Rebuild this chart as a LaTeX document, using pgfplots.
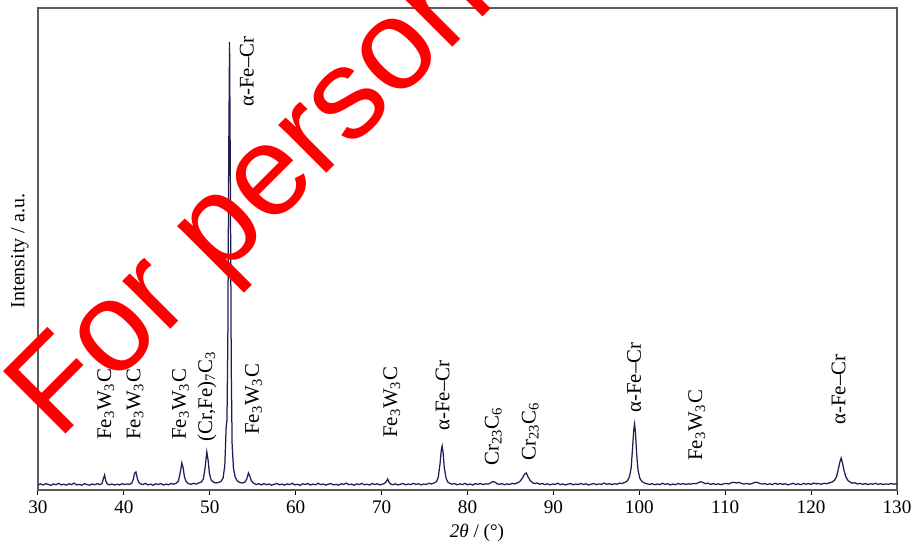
\documentclass[border=0pt]{standalone}
\usepackage{pgfplots}
\pgfplotsset{compat=1.18}
\usepackage{fontspec}
\setmainfont{Liberation Serif}
\newfontfamily\wmfont{Liberation Sans}
\definecolor{trace}{RGB}{30,30,85}
\definecolor{frame}{RGB}{90,90,90}
\begin{document}
\begin{tikzpicture}
\begin{axis}[
  at={(0,0)}, anchor=south west,
  scale only axis, width=515.4pt, height=289.2pt,
  xmin=30, xmax=130, ymin=0, ymax=482,
  xtick={30,40,...,130}, ytick=\empty,
  xtick pos=bottom, tick align=outside,
  major tick length=3pt,
  axis line style={frame, line width=0.8pt},
  every tick/.style={black, line width=0.6pt},
  /pgf/number format/assume math mode=true,
  xticklabel style={font=\fontsize{11.5}{12}\selectfont},
  xlabel={\textit{2θ} / (°)},
  xlabel style={font=\fontsize{11.5}{12}\selectfont, at={(axis description cs:0.511,-0.089)}, anchor=center},
  ylabel={Intensity / a.u.},
  ylabel style={font=\fontsize{12}{12}\selectfont, at={(axis description cs:-0.021,0.496)}, anchor=center},
  clip=false,
]
\addplot[trace, line width=0.75pt] coordinates {
(30.0,5.2)(30.3,6.1)(30.6,5.0)(30.9,6.4)(31.2,5.5)(31.5,4.6)(31.8,6.0)(32.1,5.3)(32.4,6.7)(32.7,5.1)
(33.0,5.8)(33.3,4.9)(33.6,6.2)(33.9,5.4)(34.2,6.9)(34.5,5.0)(34.8,5.7)(35.1,4.7)(35.4,6.3)(35.7,5.5)
(36.0,4.8)(36.3,6.0)(36.6,5.2)(36.9,6.4)(37.2,5.3)(37.45,6.5)(37.6,11)(37.75,15)(37.9,9)(38.05,6.2)
(38.3,5.1)(38.6,6.0)(38.9,4.9)(39.2,5.8)(39.5,5.0)(39.8,6.3)(40.1,5.4)(40.4,6.1)(40.7,5.6)(40.95,7.2)
(41.1,11)(41.25,17)(41.4,18)(41.55,12)(41.7,8.0)(41.9,6.3)(42.2,5.4)(42.5,6.6)(42.8,5.1)(43.1,5.9)
(43.4,4.8)(43.7,6.2)(44.0,5.5)(44.3,6.4)(44.6,5.0)(44.9,5.9)(45.2,5.3)(45.5,6.5)(45.8,5.8)(46.1,6.9)
(46.35,9)(46.55,17)(46.75,27)(46.9,22)(47.05,13)(47.25,8.5)(47.5,6.5)(47.8,5.6)(48.1,6.7)(48.4,5.9)
(48.7,7.0)(49.0,7.8)(49.25,11)(49.45,22)(49.65,38)(49.8,30)(49.95,17)(50.15,10)(50.4,8.0)(50.7,7.0)
(51.0,7.5)(51.3,8.5)(51.55,12)(51.75,25)(51.9,62)(52.0,70)(52.1,150)(52.2,330)(52.3,448)(52.4,300)
(52.5,120)(52.6,45)(52.75,22)(52.95,13)(53.2,9)(53.5,7.5)(53.8,7.0)(54.1,8.0)(54.3,11)(54.5,17)
(54.65,14)(54.85,9)(55.1,6.8)(55.4,5.5)(55.7,6.3)(56.0,5.1)(56.3,6.4)(56.6,5.3)(56.9,6.0)(57.2,4.8)
(57.5,5.7)(57.8,6.6)(58.1,5.2)(58.4,5.9)(58.7,4.9)(59.0,6.1)(59.3,5.4)(59.6,6.8)(59.9,5.1)(60.2,5.8)
(60.5,4.6)(60.8,6.2)(61.1,5.5)(61.4,6.5)(61.7,5.0)(62.0,5.9)(62.3,5.2)(62.6,6.7)(62.9,5.4)(63.2,6.0)
(63.5,4.9)(63.8,5.8)(64.1,6.4)(64.4,5.1)(64.7,5.7)(65.0,4.8)(65.3,6.3)(65.6,5.6)(65.9,6.9)(66.2,5.3)
(66.5,5.9)(66.8,4.7)(67.1,6.1)(67.4,5.4)(67.7,6.6)(68.0,5.2)(68.3,5.8)(68.6,5.0)(68.9,6.4)(69.2,5.5)
(69.5,6.2)(69.8,5.1)(70.1,5.9)(70.35,6.5)(70.55,8.5)(70.7,11)(70.85,8)(71.05,6.0)(71.3,5.3)(71.6,6.2)
(71.9,5.0)(72.2,5.8)(72.5,6.5)(72.8,5.2)(73.1,6.0)(73.4,5.4)(73.7,6.7)(74.0,5.6)(74.3,6.3)(74.6,5.1)
(74.9,6.0)(75.2,5.5)(75.5,6.8)(75.8,6.0)(76.1,7.0)(76.4,8.5)(76.6,13)(76.8,26)(76.95,40)(77.05,44)
(77.15,38)(77.3,22)(77.5,12)(77.7,8.0)(77.95,6.6)(78.2,5.8)(78.5,6.4)(78.8,5.2)(79.1,6.1)(79.4,5.5)
(79.7,6.6)(80.0,5.3)(80.3,6.0)(80.6,5.0)(80.9,6.3)(81.2,5.7)(81.5,6.5)(81.8,5.4)(82.1,6.2)(82.4,5.9)
(82.7,7.2)(82.95,8.5)(83.2,7.8)(83.45,6.3)(83.7,5.6)(84.0,6.4)(84.3,5.3)(84.6,6.1)(84.9,5.5)(85.2,6.7)
(85.5,6.0)(85.8,7.2)(86.1,8.5)(86.4,12)(86.65,16)(86.85,17)(87.05,13)(87.3,9.5)(87.55,7.5)(87.8,6.4)
(88.1,7.0)(88.4,5.8)(88.7,6.5)(89.0,5.4)(89.3,6.2)(89.6,5.1)(89.9,6.0)(90.2,5.6)(90.5,6.8)(90.8,5.3)
(91.1,6.1)(91.4,5.0)(91.7,5.9)(92.0,6.5)(92.3,5.2)(92.6,6.0)(92.9,5.4)(93.2,6.6)(93.5,5.5)(93.8,6.2)
(94.1,5.0)(94.4,5.8)(94.7,6.4)(95.0,5.3)(95.3,6.1)(95.6,5.6)(95.9,6.9)(96.2,5.7)(96.5,6.3)(96.8,5.4)
(97.1,6.2)(97.4,5.8)(97.7,6.9)(98.0,6.5)(98.3,7.5)(98.6,9.0)(98.85,13)(99.05,22)(99.2,40)(99.35,60)
(99.45,66)(99.55,58)(99.7,35)(99.85,20)(100.05,12)(100.3,8.5)(100.6,7.0)(100.9,6.2)(101.2,5.5)(101.5,6.4)
(101.8,5.2)(102.1,6.0)(102.4,5.4)(102.7,6.7)(103.0,5.6)(103.3,6.3)(103.6,5.1)(103.9,5.9)(104.2,5.3)(104.5,6.5)
(104.8,5.7)(105.1,6.4)(105.4,5.5)(105.7,6.2)(106.0,5.8)(106.3,6.6)(106.6,6.3)(106.9,7.4)(107.15,8.3)(107.4,7.5)
(107.7,6.3)(108.0,6.9)(108.3,5.6)(108.6,6.4)(108.9,5.5)(109.2,6.2)(109.5,5.3)(109.8,6.1)(110.1,6.6)(110.4,6.0)
(110.7,7.2)(111.0,7.8)(111.3,7.0)(111.6,7.6)(111.9,6.5)(112.2,5.9)(112.5,6.6)(112.8,5.8)(113.1,6.4)(113.4,7.4)
(113.7,7.8)(114.0,6.6)(114.3,5.9)(114.6,6.4)(114.9,5.5)(115.2,6.2)(115.5,5.4)(115.8,6.8)(116.1,5.7)(116.4,6.5)
(116.7,5.6)(117.0,6.3)(117.3,5.1)(117.6,5.9)(117.9,6.7)(118.2,5.5)(118.5,6.2)(118.8,5.3)(119.1,6.6)(119.4,5.8)
(119.7,6.4)(120.0,5.6)(120.3,6.9)(120.6,6.1)(120.9,6.5)(121.2,5.7)(121.5,6.8)(121.8,6.2)(122.1,7.1)(122.4,7.8)
(122.7,9.5)(122.95,13)(123.15,20)(123.35,28)(123.5,32)(123.65,27)(123.85,19)(124.05,13)(124.3,9.5)(124.55,7.8)
(124.8,6.8)(125.1,7.2)(125.4,6.0)(125.7,6.6)(126.0,5.7)(126.3,6.4)(126.6,5.5)(126.9,6.2)(127.2,5.8)(127.5,6.7)
(127.8,5.6)(128.1,6.3)(128.4,5.4)(128.7,6.1)(129.0,5.7)(129.3,6.5)(129.6,5.8)(129.9,6.2)(130.0,5.9)
};
\begin{scope}[every node/.style={rotate=90, anchor=west, inner sep=0pt, font=\fontsize{12.5}{12.5}\selectfont}]
\node at (axis cs:37.9,50) {Fe\textsubscript{3}W\textsubscript{3}C};
\node at (axis cs:41.3,50) {Fe\textsubscript{3}W\textsubscript{3}C};
\node at (axis cs:46.6,50) {Fe\textsubscript{3}W\textsubscript{3}C};
\node at (axis cs:49.7,48) {(Cr,Fe)\textsubscript{7}C\textsubscript{3}};
\node at (axis cs:55.1,55) {Fe\textsubscript{3}W\textsubscript{3}C};
\node at (axis cs:54.3,383) {α-Fe--Cr};
\node at (axis cs:71.2,52) {Fe\textsubscript{3}W\textsubscript{3}C};
\node at (axis cs:77.1,59) {α-Fe--Cr};
\node at (axis cs:83.0,24) {Cr\textsubscript{23}C\textsubscript{6}};
\node at (axis cs:87.3,29) {Cr\textsubscript{23}C\textsubscript{6}};
\node at (axis cs:99.4,77) {α-Fe--Cr};
\node at (axis cs:106.7,29) {Fe\textsubscript{3}W\textsubscript{3}C};
\node at (axis cs:123.2,65) {α-Fe--Cr};
\end{scope}
\end{axis}
\begin{scope}
\clip (-22.8pt,-34.2pt) rectangle (525.6pt,294pt);
\node[anchor=base west, rotate=45, inner sep=0pt, text={rgb,255:red,255;green,0;blue,0}, font=\wmfont\fontsize{77}{77}\selectfont] at (12pt,29pt) {For personal};
\end{scope}
\pgfresetboundingbox
\useasboundingbox (-22.8pt,-34.2pt) rectangle (525.6pt,294pt);
\end{tikzpicture}
\end{document}
